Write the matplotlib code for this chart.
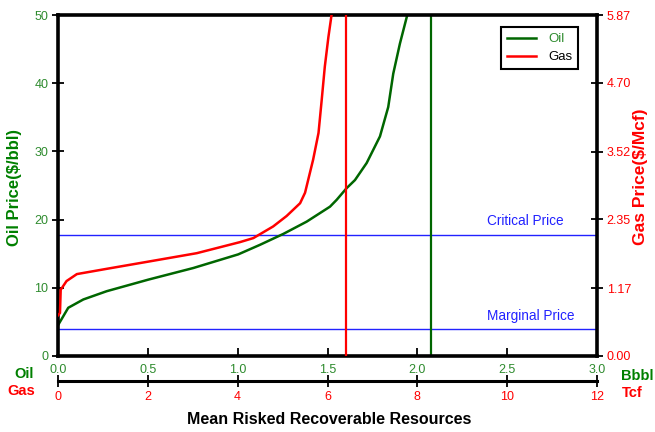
import matplotlib
matplotlib.use("Agg")
import matplotlib.pyplot as plt

plt.rcParams.update({
    "font.family": ["Liberation Sans", "DejaVu Sans"],
    "font.size": 8,
})

# ===============================
# data
# ===============================
oil_bbbl = [0.0, 0.002, 0.057, 0.141, 0.271, 0.503, 0.753, 1.003, 1.124, 1.254,
            1.384, 1.514, 1.551, 1.606, 1.653, 1.718, 1.792, 1.838, 1.866, 1.903, 1.944]
oil_price = [4.5, 4.6, 7.07, 8.29, 9.5, 11.2, 12.9, 14.9, 16.3, 17.9,
             19.7, 21.9, 22.9, 24.6, 25.8, 28.3, 32.2, 36.5, 41.4, 45.8, 50.0]

gas_tcf = [0.0, 0.044, 0.06, 0.19, 0.42, 1.08, 2.05, 3.09, 4.05, 4.35, 4.79, 5.09,
           5.39, 5.50, 5.68, 5.80, 5.87, 5.94, 6.02, 6.09]
gas_price = [0.70, 0.74, 1.14, 1.29, 1.41, 1.50, 1.63, 1.77, 1.96, 2.03, 2.23, 2.41,
             2.63, 2.81, 3.38, 3.84, 4.40, 4.98, 5.49, 5.87]

oil_mean = 2.076      # Bbbl
gas_mean = 6.41       # Tcf
critical_price = 17.8  # $/bbl
marginal_price = 4.0   # $/bbl

oil_xticks = [0.0, 0.5, 1.0, 1.5, 2.0, 2.5, 3.0]
oil_yticks = [0, 10, 20, 30, 40, 50]
gas_xticks = [0, 2, 4, 6, 8, 10, 12]
gas_yticks = [0.0, 1.17, 2.35, 3.52, 4.70, 5.87]

# ===============================
# colours
# ===============================
GREEN = "#006600"
GREEN_TXT = "#2e8b2e"
RED = "#ff0000"
BLUE = "#2222ff"

W, H = 655, 432
fig = plt.figure(figsize=(W / 100, H / 100), dpi=100)
rect = [58 / W, 1 - 356 / H, (597 - 58) / W, (356 - 15) / H]

ax = fig.add_axes(rect)
axg = fig.add_axes(rect, facecolor="none")

# oil axes
ax.set_xlim(0, 3)
ax.set_ylim(0, 50)
ax.set_xticks(oil_xticks)
ax.set_xticklabels([f"{v:.1f}" for v in oil_xticks])
ax.set_yticks(oil_yticks)
ax.tick_params(axis="x", direction="in", length=6, width=1.3, colors="black",
               labelcolor=GREEN_TXT, labelsize=9, pad=6)
ax.tick_params(axis="y", direction="inout", length=8, width=1.3, colors="black",
               labelcolor=GREEN_TXT, labelsize=9, pad=3)
for s in ax.spines.values():
    s.set_linewidth(2.6)
ax.spines["right"].set_visible(False)

ax.axhline(critical_price, color=BLUE, lw=1.0)
ax.axhline(marginal_price, color=BLUE, lw=1.0)
ax.text(2.385, critical_price + 0.9, "Critical Price", color=BLUE, fontsize=9.8, va="bottom")
ax.text(2.385, marginal_price + 0.9, "Marginal Price", color=BLUE, fontsize=9.8, va="bottom")

l_oil, = ax.plot(oil_bbbl, oil_price, color=GREEN, lw=1.8, label="Oil")
ax.axvline(oil_mean, color=GREEN, lw=1.6)

# gas axes
axg.set_xlim(0, 12)
axg.set_ylim(0, 5.87)
axg.set_xticks(gas_xticks)
axg.set_yticks(gas_yticks)
axg.set_yticklabels([f"{v:.2f}" for v in gas_yticks])
axg.yaxis.tick_right()
axg.spines["top"].set_visible(False)
axg.spines["left"].set_visible(False)
axg.spines["right"].set_linewidth(2.6)
axg.spines["bottom"].set_position(("outward", 18))
axg.spines["bottom"].set_linewidth(2.2)
axg.tick_params(axis="x", direction="inout", length=8, width=1.3, colors="black",
                labelcolor=RED, labelsize=9, pad=3)
axg.tick_params(axis="y", direction="inout", length=8, width=1.3, colors="black",
                labelcolor=RED, labelsize=9, pad=3)

l_gas, = axg.plot(gas_tcf, gas_price, color=RED, lw=1.8, label="Gas")
axg.axvline(gas_mean, color=RED, lw=1.6)

leg = axg.legend(handles=[l_oil, l_gas], loc="upper right",
                 bbox_to_anchor=((578 - 58) / (597 - 58), (356 - 27) / (356 - 15)),
                 fancybox=False, framealpha=1, edgecolor="black", fontsize=9.5,
                 handlelength=2.2, handletextpad=0.9, borderpad=0.45,
                 labelspacing=0.45, borderaxespad=0)
leg.get_frame().set_linewidth(1.5)
leg.get_texts()[0].set_color(GREEN_TXT)

# labels
fig.text(15 / W, 1 - 188 / H, "Oil Price($/bbl)", rotation=90, color="#008000",
         fontsize=12, fontweight="bold", ha="center", va="center")
fig.text(640 / W, 1 - 177 / H, "Gas Price($/Mcf)", rotation=90, color=RED,
         fontsize=12.5, fontweight="bold", ha="center", va="center")
fig.text(24 / W, 1 - 374 / H, "Oil", color="#008000", fontsize=10.5,
         fontweight="bold", ha="center", va="center")
fig.text(21 / W, 1 - 391 / H, "Gas", color=RED, fontsize=10.5,
         fontweight="bold", ha="center", va="center")
fig.text(637 / W, 1 - 376 / H, "Bbbl", color="#008000", fontsize=10.5,
         fontweight="bold", ha="center", va="center")
fig.text(632 / W, 1 - 393 / H, "Tcf", color=RED, fontsize=10.5,
         fontweight="bold", ha="center", va="center")
fig.text(329 / W, 1 - 420 / H, "Mean Risked Recoverable Resources", color="black",
         fontsize=11.5, fontweight="bold", ha="center", va="center")

fig.savefig("out.png", dpi=100)
